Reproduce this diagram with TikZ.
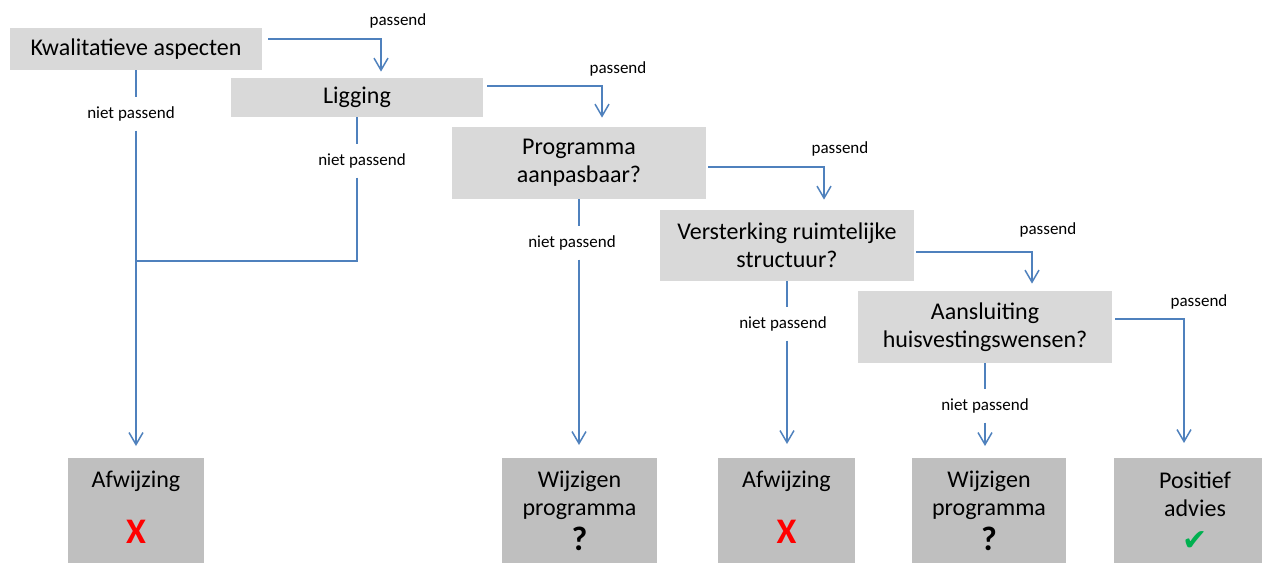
\documentclass[tikz,border=0pt]{standalone}
\usepackage{fontspec}
\setmainfont{Carlito}
\newfontfamily\symfont{DejaVu Sans}
\usetikzlibrary{arrows.meta}
\definecolor{boxgray}{RGB}{217,217,217}
\definecolor{endgray}{RGB}{191,191,191}
\definecolor{flowblue}{RGB}{79,129,189}
\definecolor{okgreen}{RGB}{0,176,80}
\newcommand\nomark{{\color{red}\fontsize{18}{18}\selectfont\bfseries X}}
\newcommand\askmark{{\fontsize{17}{17}\selectfont\bfseries ?}}
\newcommand\okmark{{\color{okgreen}\symfont\fontsize{15}{15}\selectfont ✔}}

\begin{document}
\begin{tikzpicture}[x=0.5pt, y=-0.5pt,
        box/.style={fill=boxgray, minimum width=127pt, inner sep=0pt, align=center, font=\fontsize{12}{14}\selectfont},
        endbox/.style={fill=endgray, minimum height=60pt, anchor=north, inner sep=0pt},
        endtext/.style={anchor=north, yshift=-6.5pt, inner sep=0pt, align=center, font=\fontsize{12}{14}\selectfont},
        small/.style={inner sep=0pt, font=\fontsize{8.5}{10}\selectfont},
        gap/.style={small, inner ysep=4.5pt},
        line/.style={draw=flowblue, line width=0.75pt},
        flow/.style={line, -{Straight Barb[length=6pt,width=7pt]}}]
    \clip (0,0) rectangle (1262,562);

    % questions
    \node (kwal) at (136,49) [box, minimum width=126pt, minimum height=21pt] {Kwalitatieve aspecten};
    \node (lig) at (357,97.5) [box, minimum width=126pt, minimum height=19.5pt] {Ligging};
    \node (prog) at (579,163) [box, minimum height=36pt] {Programma\\aanpasbaar?};
    \node (verst) at (787,245.5) [box, minimum height=35.5pt] {Versterking ruimtelijke\\structuur?};
    \node (aans) at (985,327) [box, minimum height=36pt] {Aansluiting\\huisvestingswensen?};

    % outcomes
    \node (afw1) at (136,458) [endbox, minimum width=68pt, label={[endtext]north:{Afwijzing\\[14pt]\nomark}}] {};
    \node (wijz1) at (579.5,458) [endbox, minimum width=77.5pt, label={[endtext]north:{Wijzigen\\programma\\[3.5pt]\askmark}}] {};
    \node (afw2) at (786.5,458) [endbox, minimum width=68.5pt, label={[endtext]north:{Afwijzing\\[14pt]\nomark}}] {};
    \node (wijz2) at (989,458) [endbox, minimum width=77pt, label={[endtext]north:{Wijzigen\\programma\\[3.5pt]\askmark}}] {};
    \node (pos) at (1195,458) [endbox, minimum width=81pt, label={[endtext]north:{Positief\\advies\\[3pt]\okmark}}] {};

    % passend
    \node (p1) at (398,21) [small] {passend};
    \node (p2) at (618,69) [small] {passend};
    \node (p3) at (840,149) [small] {passend};
    \node (p4) at (1048,230) [small] {passend};
    \node (p5) at (1199,302) [small] {passend};
    \draw[flow] ([xshift=3pt,yshift=5pt]kwal.east) -| ([xshift=12pt,yshift=3pt]lig.north);
    \draw[flow] ([xshift=2pt,yshift=5.75pt]lig.east) -| ([xshift=11.5pt,yshift=4.5pt]prog.north);
    \draw[flow] ([xshift=1pt,yshift=-2pt]prog.east) -| ([xshift=18.5pt,yshift=5pt]verst.north);
    \draw[flow] ([xshift=1pt,yshift=-3.25pt]verst.east) -| ([xshift=23.5pt,yshift=3.5pt]aans.north);
    \draw[flow] ([xshift=1.5pt,yshift=4pt]aans.east) -| ([xshift=-5.5pt,yshift=7.5pt]pos.north);

    % niet passend
    \node (np1) at (131,114) [gap] {niet passend};
    \node (np2) at (362,161) [gap] {niet passend};
    \node (np3) at (572,243) [gap] {niet passend};
    \node (np4) at (783,324) [gap] {niet passend};
    \node (np5) at (985,406) [gap] {niet passend};
    \coordinate (join) at (136,261);
    \draw[line] (kwal) -- (kwal |- np1.north);
    \draw[flow, shorten >=6pt] (kwal |- np1.south) -- (kwal |- afw1.north);
    \draw[line] (lig) -- (lig |- np2.north);
    \draw[line] (lig |- np2.south) |- (join);
    \draw[line] (prog) -- (prog |- np3.north);
    \draw[flow, shorten >=6.5pt] (prog |- np3.south) -- (prog |- wijz1.north);
    \draw[line] (verst) -- (verst |- np4.north);
    \draw[flow, shorten >=7pt] (verst |- np4.south) -- (verst |- afw2.north);
    \draw[line] (aans) -- (aans |- np5.north);
    \draw[flow, shorten >=6pt] (aans |- np5.south) -- (aans |- wijz2.north);
\end{tikzpicture}
\end{document}
